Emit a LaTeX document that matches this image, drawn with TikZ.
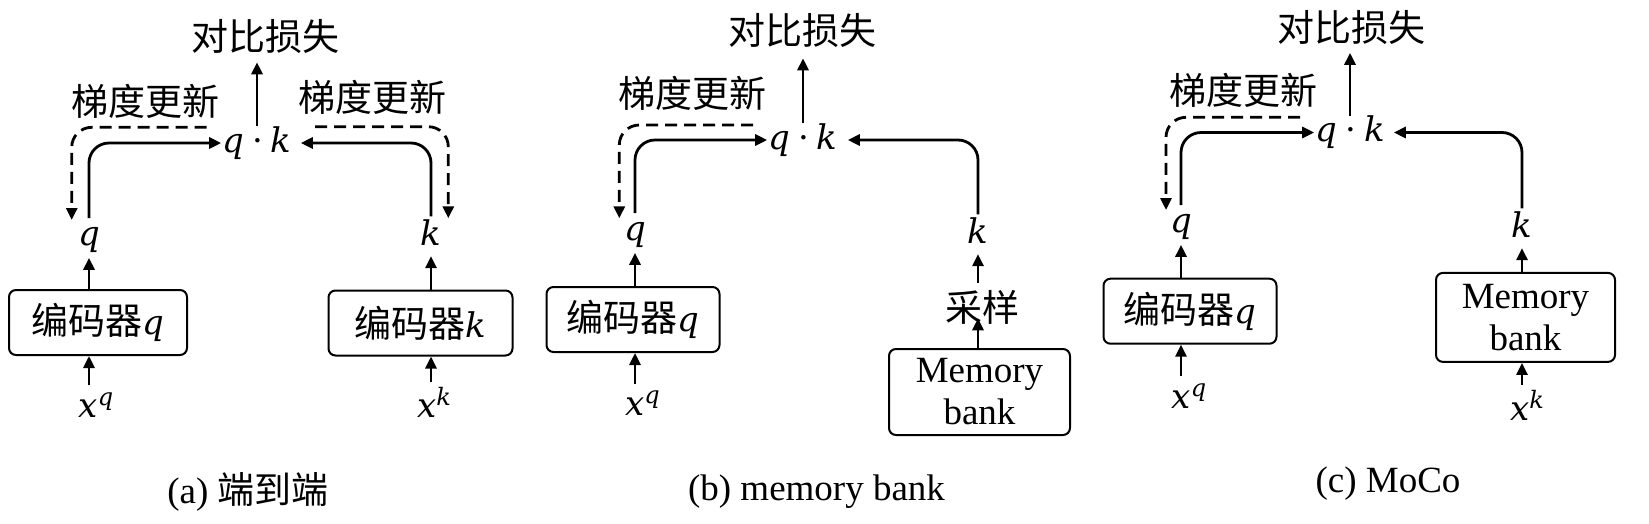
\RequirePackage{fix-cm}
\documentclass[tikz,border=0pt]{standalone}
\usepackage{fontspec}
\setmainfont{Liberation Serif}
\newfontfamily\cjk{Noto Sans CJK SC}
\newfontfamily\vf{DejaVu Serif}
\newcommand\vv[1]{{\vf\itshape #1}}
\newcommand\xsupr[2]{\vv{#1}\raisebox{12pt}{\fontsize{24}{24}\selectfont\vv{#2}}}
\newcommand\qdotk{\vv{q}\kern8pt{\vf ·}\kern8pt\vv{k}}
\usetikzlibrary{arrows.meta,calc}
\begin{document}
\begin{tikzpicture}[x=1pt,y=-1pt,
  every node/.style={inner sep=0pt, font=\fontsize{37}{42}\selectfont},
  mth/.style={font=\fontsize{34}{40}\selectfont},
  box/.style={draw, line width=2pt, rounded corners=7pt, align=center},
  arr/.style={line width=2.8pt, -{Triangle[length=12pt,width=11pt]}},
  darr/.style={arr, dash pattern=on 12pt off 7pt},
  roundpath/.style={rounded corners=20pt}]
\fill[white] (0,0) rectangle (1649,523);
\useasboundingbox (0,0) rectangle (1649,523);

% ---------- panel a ----------
\node (lossA) at (265,37) {\cjk 对比损失};
\node[mth] (qkA) at (257,143) {\qdotk};
\node (gradAL) at (145,101.5) {\cjk 梯度更新};
\node (gradAR) at (372,97) {\cjk 梯度更新};
\node[mth] (qA) at (89,240) {\vv{q}};
\node[mth] (kA) at (431,233) {\vv{k}};
\node[box, minimum width=178pt, minimum height=65pt] (encqA) at (98,322.5) {{\cjk 编码器}{\fontsize{34}{40}\selectfont\vv{q}}};
\node[box, minimum width=184pt, minimum height=65pt] (enckA) at (420.5,323) {{\cjk 编码器}{\fontsize{34}{40}\selectfont\vv{k}}};
\node[mth] (xqA) at (96,405) {\xsupr{x}{q}};
\node[mth] (xkA) at (434,402) {\xsupr{x}{k}};
\node (capA) at (248,492) {(a) {\cjk 端到端}};

\draw[arr] (qkA.north) -- ([yshift=-8pt]lossA.south -| qkA.north);
\draw[arr,roundpath] ([yshift=9pt]qA.north) |- ([xshift=-1pt]qkA.west);
\draw[arr,roundpath] ([yshift=3.5pt]kA.north) |- ([xshift=9pt]qkA.east);
\coordinate (dAL1) at (206.7,127.3);
\coordinate (dAL2) at (71.7,220);
\draw[darr,roundpath] (dAL1) -| (dAL2);
\coordinate (dAR1) at (315,126.7);
\coordinate (dAR2) at (448.3,218.3);
\draw[darr,roundpath] (dAR1) -| (dAR2);
\draw[arr] (encqA.north -| qA) -- ([yshift=-5pt]qA.south);
\draw[arr] (enckA.north -| kA) -- ([yshift=-10pt]kA.south);
\draw[arr] ([yshift=7pt]xqA.north -| qA) -- (encqA.south -| qA);
\draw[arr] ([yshift=5pt]xkA.north -| kA) -- (enckA.south -| kA);

% ---------- panel b ----------
\node (lossB) at (802.5,31) {\cjk 对比损失};
\node[mth] (qkB) at (803,140) {\qdotk};
\node (gradB) at (692.5,93.3) {\cjk 梯度更新};
\node[mth] (qB) at (635,235) {\vv{q}};
\node[mth] (kB) at (978,231) {\vv{k}};
\node[box, minimum width=173pt, minimum height=65pt] (encqB) at (633,319.5) {{\cjk 编码器}{\fontsize{34}{40}\selectfont\vv{q}}};
\node (samp) at (982,307) {\cjk 采样};
\node[box, minimum width=181pt, minimum height=86pt] (memB) at (979.5,392) {Memory\\bank};
\node[mth] (xqB) at (642.5,403.5) {\xsupr{x}{q}};
\node (capB) at (816.5,492) {(b) memory bank};

\draw[arr] (qkB.north) -- ([yshift=-10pt]lossB.south -| qkB.north);
\draw[arr,roundpath] ([yshift=9pt]qB.north) |- ([xshift=-1pt]qkB.west);
\draw[arr,roundpath] ([yshift=3.5pt]kB.north) |- ([xshift=10pt]qkB.east);
\coordinate (dB1) at (753,125);
\coordinate (dB2) at (619.3,218.3);
\draw[darr,roundpath] (dB1) -| (dB2);
\draw[arr] (encqB.north -| qB) -- ([yshift=-5pt]qB.south);
\draw[arr] ([yshift=7pt]samp.north -| kB) -- ([yshift=-10pt]kB.south);
\draw[arr] (memB.north -| kB) -- ([yshift=6pt]samp.south -| kB);
\draw[arr] ([yshift=7pt]xqB.north -| qB) -- (encqB.south -| qB);

% ---------- panel c ----------
\node (lossC) at (1351,27.5) {\cjk 对比损失};
\node[mth] (qkC) at (1350,132.5) {\qdotk};
\node (gradC) at (1243,90) {\cjk 梯度更新};
\node[mth] (qC) at (1181,227) {\vv{q}};
\node[mth] (kC) at (1522,225) {\vv{k}};
\node[box, minimum width=173pt, minimum height=65pt] (encqC) at (1190,311.2) {{\cjk 编码器}{\fontsize{34}{40}\selectfont\vv{q}}};
\node[box, minimum width=179pt, minimum height=89pt] (memC) at (1525.5,317.4) {Memory\\bank};
\node[mth] (xqC) at (1189,396) {\xsupr{x}{q}};
\node[mth] (xkC) at (1527,405) {\xsupr{x}{k}};
\node (capC) at (1388,484) {(c) MoCo};

\draw[arr] (qkC.north) -- ([yshift=-8pt]lossC.south -| qkC.north);
\draw[arr,roundpath] ([yshift=9pt]qC.north) |- ([xshift=-1pt]qkC.west);
\draw[arr,roundpath] ([yshift=3.5pt]kC.north) |- ([xshift=9pt]qkC.east);
\coordinate (dC1) at (1300,117.3);
\coordinate (dC2) at (1166,210);
\draw[darr,roundpath] (dC1) -| (dC2);
\draw[arr] (encqC.north -| qC) -- ([yshift=-5pt]qC.south);
\draw[arr] (memC.north -| kC) -- ([yshift=-10pt]kC.south);
\draw[arr] ([yshift=7pt]xqC.north -| qC) -- (encqC.south -| qC);
\draw[arr] ([yshift=5pt]xkC.north -| kC) -- (memC.south -| kC);
\end{tikzpicture}
\end{document}
